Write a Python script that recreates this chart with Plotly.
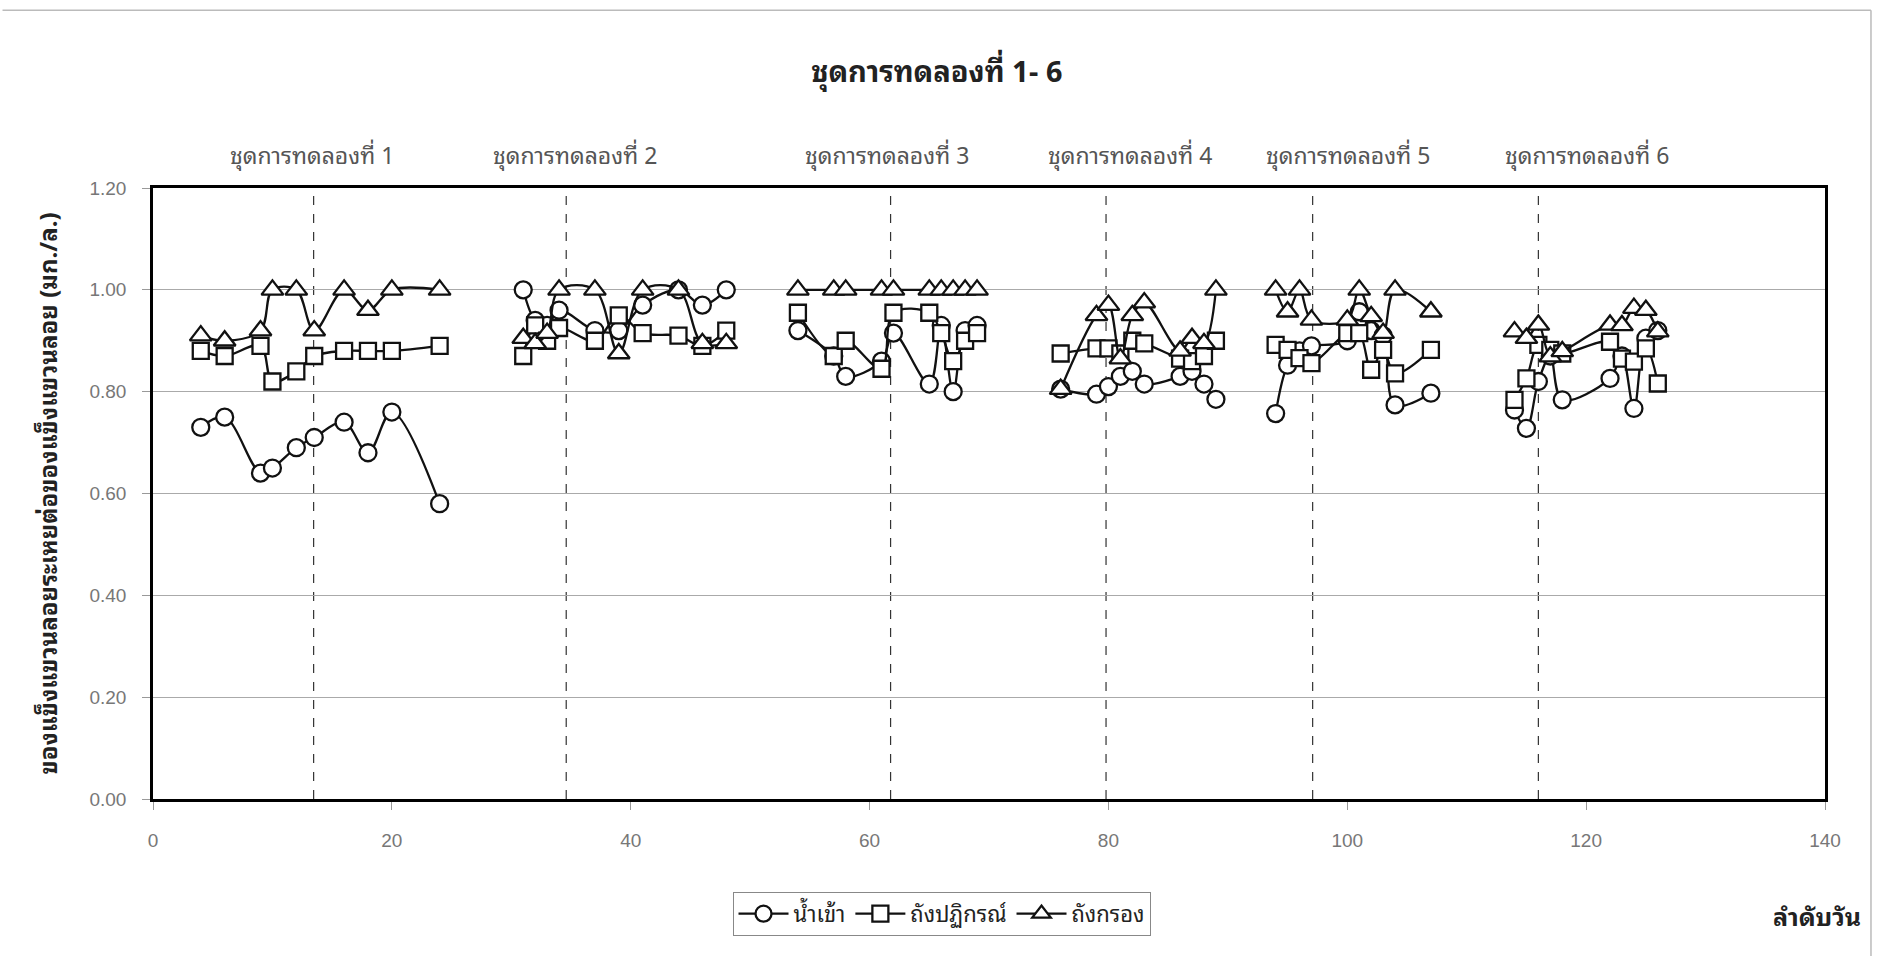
import plotly.graph_objects as go

# Day index of each sample, experiment sets 1-6
days_set1 = [4, 6, 9, 10, 12, 13.5, 16, 18, 20, 24]
days_set2 = [31, 32, 33, 34, 37, 39, 41, 44, 46, 48]
days_set3 = [54, 57, 58, 61, 62, 65, 66, 67, 68, 69]
days_set4 = [76, 79, 80, 81, 82, 83, 86, 87, 88, 89]
days_set5 = [94, 95, 96, 97, 100, 101, 102, 103, 104, 107]
days_set6 = [114, 115, 116, 117, 118, 122, 123, 124, 125, 126]

# VSS/SS ratio - influent (น้ำเข้า)
influent_set1 = [0.73, 0.75, 0.64, 0.65, 0.69, 0.71, 0.74, 0.68, 0.76, 0.58]
influent_set2 = [1.00, 0.94, 0.93, 0.96, 0.92, 0.92, 0.97, 1.00, 0.97, 1.00]
influent_set3 = [0.92, 0.87, 0.83, 0.86, 0.915, 0.815, 0.93, 0.80, 0.92, 0.93]
influent_set4 = [0.805, 0.795, 0.81, 0.83, 0.84, 0.815, 0.83, 0.84, 0.815, 0.785]
influent_set5 = [0.757, 0.852, 0.88, 0.89, 0.90, 0.957, 0.92, 0.91, 0.774, 0.797]
influent_set6 = [0.764, 0.728, 0.82, 0.87, 0.784, 0.826, 0.87, 0.767, 0.905, 0.92]

# VSS/SS ratio - reactor (ถังปฏิกรณ์)
reactor_set1 = [0.88, 0.87, 0.89, 0.82, 0.84, 0.87, 0.88, 0.88, 0.88, 0.89]
reactor_set2 = [0.87, 0.93, 0.90, 0.925, 0.90, 0.95, 0.915, 0.91, 0.89, 0.92]
reactor_set3 = [0.955, 0.87, 0.90, 0.845, 0.955, 0.955, 0.915, 0.86, 0.90, 0.915]
reactor_set4 = [0.875, 0.885, 0.885, 0.875, 0.90, 0.895, 0.865, 0.86, 0.87, 0.90]
reactor_set5 = [0.892, 0.882, 0.866, 0.856, 0.915, 0.915, 0.843, 0.882, 0.836, 0.882]
reactor_set6 = [0.784, 0.826, 0.892, 0.882, 0.875, 0.898, 0.865, 0.859, 0.885, 0.816]

# VSS/SS ratio - filter tank (ถังกรอง)
filter_set1 = [0.91, 0.90, 0.92, 1.00, 1.00, 0.92, 1.00, 0.96, 1.00, 1.00]
filter_set2 = [0.905, 0.895, 0.915, 1.00, 1.00, 0.875, 1.00, 1.00, 0.895, 0.895]
filter_set3 = [1.00, 1.00, 1.00, 1.00, 1.00, 1.00, 1.00, 1.00, 1.00, 1.00]
filter_set4 = [0.805, 0.95, 0.97, 0.865, 0.95, 0.975, 0.88, 0.905, 0.895, 1.00]
filter_set5 = [1.00, 0.957, 1.00, 0.941, 0.941, 1.00, 0.948, 0.915, 1.00, 0.957]
filter_set6 = [0.918, 0.905, 0.931, 0.869, 0.879, 0.931, 0.93, 0.964, 0.96, 0.918]

# Set boundaries (dashed markers) and set label positions
split_days = [13.45, 34.6, 61.76, 79.8, 97.1, 116.0]
set_label_days = [13.35, 35.3, 61.5, 81.8, 100.1, 120.1]
set_labels = ["ชุดการทดลองที่ 1", "ชุดการทดลองที่ 2", "ชุดการทดลองที่ 3",
              "ชุดการทดลองที่ 4", "ชุดการทดลองที่ 5", "ชุดการทดลองที่ 6"]

series_names = ["น้ำเข้า", "ถังปฏิกรณ์", "ถังกรอง"]
y_ticks = [0.0, 0.2, 0.4, 0.6, 0.8, 1.0, 1.2]
x_ticks = [0, 20, 40, 60, 80, 100, 120, 140]

all_days = [days_set1, days_set2, days_set3, days_set4, days_set5, days_set6]
influent = [influent_set1, influent_set2, influent_set3, influent_set4, influent_set5, influent_set6]
reactor = [reactor_set1, reactor_set2, reactor_set3, reactor_set4, reactor_set5, reactor_set6]
filt = [filter_set1, filter_set2, filter_set3, filter_set4, filter_set5, filter_set6]


def join_sets(days_lists, value_lists):
    """Concatenate sets with a None break so the line is not drawn between sets."""
    xs, ys = [], []
    for d, v in zip(days_lists, value_lists):
        if xs:
            xs.append(None)
            ys.append(None)
        xs.extend(d)
        ys.extend(v)
    return xs, ys


THAI = "Noto Sans Thai Looped, Noto Sans Thai, Noto Sans, Tahoma, sans-serif"
NUM = "Arial, Liberation Sans, sans-serif"
INK = "#111111"

fig = go.Figure()
for name, values, symbol, size in [
    (series_names[0], influent, "circle", 17),
    (series_names[1], reactor, "square", 16),
    (series_names[2], filt, "triangle-up", 19),
]:
    xs, ys = join_sets(all_days, values)
    fig.add_trace(go.Scatter(
        x=xs, y=ys, name=name, mode="lines+markers",
        connectgaps=False,
        line=dict(color=INK, width=2.3, shape="spline", smoothing=1.0),
        marker=dict(symbol=symbol, size=size, color="white",
                    line=dict(color=INK, width=2.3)),
    ))

# dashed set separators
for d in split_days:
    fig.add_shape(type="line", xref="x", yref="y", x0=d, x1=d, y0=0, y1=1.2,
                  line=dict(color="#333333", width=1.2, dash="dash"), layer="below")

# set labels above the plot
for d, t in zip(set_label_days, set_labels):
    fig.add_annotation(x=d, y=1.056, xref="x", yref="paper", text=t, showarrow=False,
                       font=dict(family=THAI, size=23, color="#555555"),
                       xanchor="center", yanchor="middle")

# y axis title (rotated)
fig.add_annotation(x=-0.064, y=0.5, xref="paper", yref="paper",
                   text="<b>ของแข็งแขวนลอยระเหยต่อของแข็งแขวนลอย (มก./ล.)</b>",
                   textangle=-90, showarrow=False,
                   font=dict(family=THAI, size=24, color="#222222"),
                   xanchor="center", yanchor="middle")

# x axis title
fig.add_annotation(x=0.995, y=-0.19, xref="paper", yref="paper",
                   text="<b>ลำดับวัน</b>", showarrow=False,
                   font=dict(family=THAI, size=25, color="#222222"),
                   xanchor="center", yanchor="middle")

# thin outer frame lines
fig.add_shape(type="line", xref="paper", yref="paper", x0=-0.09, x1=1.0275, y0=1.291, y1=1.291,
              line=dict(color="#bbbbbb", width=1.5))
fig.add_shape(type="line", xref="paper", yref="paper", x0=1.0275, x1=1.0275, y0=1.291, y1=-0.257,
              line=dict(color="#bbbbbb", width=1.5))

fig.update_layout(
    width=1883, height=956,
    paper_bgcolor="white", plot_bgcolor="white",
    margin=dict(l=153, r=58, t=188, b=157),
    title=dict(text="<b>ชุดการทดลองที่ 1- 6</b>", x=0.4976, y=0.925,
               xanchor="center", yanchor="middle",
               font=dict(family=THAI, size=29, color="#222222")),
    showlegend=True,
    legend=dict(orientation="h", x=0.4716, y=-0.188, xanchor="center", yanchor="middle",
                bordercolor="#888888", borderwidth=1, bgcolor="white",
                font=dict(family=THAI, size=22, color="#222222"),
                itemwidth=50),
    xaxis=dict(range=[0, 140], tickvals=x_ticks, ticktext=[str(v) for v in x_ticks],
               showgrid=False, zeroline=False,
               showline=True, linecolor="black", linewidth=2.5, mirror=True,
               ticks="outside", ticklen=8, tickcolor="#999999",
               ticklabelstandoff=14,
               tickfont=dict(family=NUM, size=19, color="#777777")),
    yaxis=dict(range=[0, 1.2], tickvals=y_ticks, tickformat=".2f",
               showgrid=True, gridcolor="#aaaaaa", gridwidth=1, zeroline=False,
               showline=True, linecolor="black", linewidth=2.5, mirror=True,
               ticks="outside", ticklen=8, tickcolor="#999999",
               ticklabelstandoff=12,
               tickfont=dict(family=NUM, size=19, color="#777777")),
)

fig.write_html("out.html")
